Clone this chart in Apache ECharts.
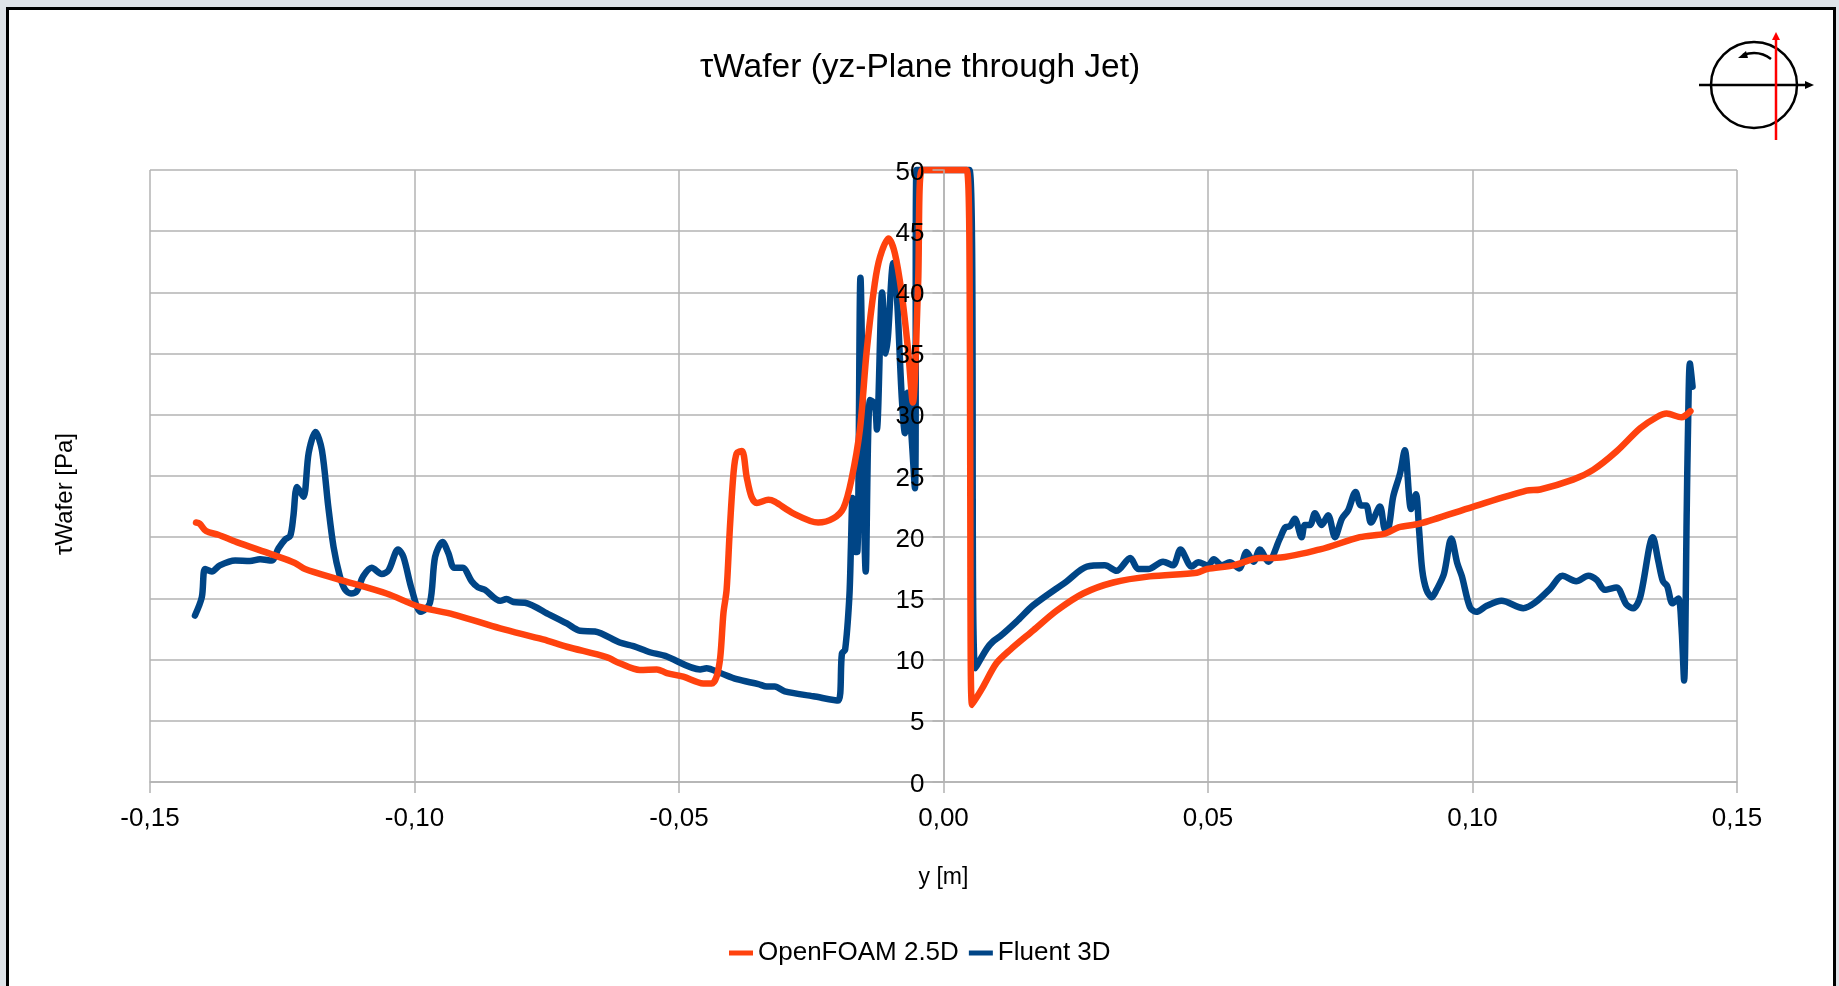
<!DOCTYPE html>
<html><head><meta charset="utf-8">
<style>
html,body{margin:0;padding:0;width:1839px;height:986px;overflow:hidden;background:#dfe3e8}
#frame{position:absolute;left:6px;top:7px;width:1824px;height:1100px;background:#fff;border:3px solid #000}
#c{position:absolute;left:0;top:0;width:1839px;height:986px}
</style>
<script src="https://cdn.jsdelivr.net/npm/echarts@6/dist/echarts.min.js"></script>
</head><body><div id="frame"></div><div id="c"></div>
<script>
const xTicks=[-0.15,-0.10,-0.05,0,0.05,0.10,0.15];
const openfoamX=[-.1413,-.1406,-.1394,-.1371,-.1336,-.127,-.1226,-.1207,-.1147,-.1053,-.099,-.0927,-.0838,-.0757,-.0712,-.0637,-.0612,-.0574,-.0542,-.0523,-.0492,-.0454,-.0438,-.0429,-.0422,-.0416,-.041,-.0404,-.0397,-.0391,-.0381,-.0372,-.0363,-.0353,-.0331,-.0319,-.0284,-.0237,-.0208,-.0189,-.0174,-.0158,-.0145,-.013,-.012,-.0104,-.0092,-.0079,-.0067,-.0058,-.0048,-.0041,.0044,.005,.0051,.0054,.0075,.01,.0126,.017,.0214,.0264,.0321,.039,.0479,.0498,.0548,.0598,.0624,.0712,.0787,.0835,.086,.09,.1002,.1102,.1128,.119,.1228,.1272,.1317,.1348,.1367,.1395,.1412];
const openfoamY=[21.2,21.1,20.5,20.2,19.6,18.6,17.9,17.4,16.6,15.4,14.3,13.7,12.55,11.65,11.05,10.2,9.7,9.15,9.2,8.9,8.6,8.05,8.05,8.6,10.2,13.8,15.7,20.6,25.2,26.85,27.05,24.9,23.3,22.8,23.05,22.9,21.95,21.2,21.55,22.4,24.7,28.8,35.3,40.7,42.9,44.4,43.2,39.9,35.3,31,40.7,50,50,35,14.9,6.3,7.8,9.7,10.8,12.4,14,15.4,16.3,16.8,17.1,17.4,17.7,18.3,18.3,19,20,20.3,20.8,21.1,22.5,23.8,23.9,24.7,25.5,27,28.9,29.8,30.1,29.8,30.3];
const fluentX=[-.1415,-.1402,-.1396,-.1383,-.1368,-.1339,-.1311,-.1292,-.127,-.1257,-.1245,-.1235,-.1229,-.1222,-.121,-.12,-.1187,-.1175,-.1163,-.1153,-.1141,-.1131,-.112,-.1109,-.1097,-.1081,-.1062,-.1049,-.1031,-.1021,-.1005,-.0988,-.0971,-.0961,-.0947,-.0936,-.0925,-.0909,-.0892,-.088,-.0867,-.0838,-.0826,-.0813,-.0791,-.0744,-.0712,-.0687,-.0659,-.0612,-.0586,-.0555,-.0526,-.046,-.0448,-.0422,-.0391,-.035,-.0334,-.0319,-.03,-.0246,-.0199,-.0192,-.0186,-.0178,-.0175,-.0172,-.0167,-.0163,-.0157,-.0147,-.0139,-.013,-.0126,-.0116,-.0109,-.0105,-.0095,-.0088,-.0079,-.0073,-.0068,-.0054,-.0051,.0049,.006,.0082,.0094,.0107,.0138,.017,.0233,.0271,.0305,.0327,.0353,.0368,.0387,.0415,.0434,.0448,.0469,.0482,.05,.0511,.0526,.0541,.0559,.0573,.0586,.0598,.0614,.0636,.0646,.0655,.0664,.0677,.0683,.0693,.0702,.0715,.0727,.074,.0753,.0765,.0779,.0789,.0799,.0808,.0825,.0835,.0842,.085,.0863,.0872,.0884,.0893,.0899,.0905,.0913,.0923,.0932,.0946,.096,.0971,.098,.0995,.1007,.1027,.1055,.1096,.1118,.1147,.117,.1196,.1219,.1235,.125,.1272,.1291,.1304,.1317,.1341,.1351,.136,.1368,.1378,.1389,.1395,.14,.1405,.1407,.1411,.1416];
const fluentY=[13.6,15.1,17.4,17.2,17.7,18.1,18.05,18.2,18.1,19.1,19.8,20.1,21.7,24.1,23.3,26.9,28.6,27.1,22.5,19.2,16.8,15.7,15.4,15.6,16.8,17.5,17,17.3,19,18.4,15.7,13.9,14.6,18.4,19.6,18.7,17.5,17.5,16.4,15.9,15.7,14.8,14.95,14.7,14.65,13.65,12.95,12.35,12.3,11.4,11.1,10.6,10.3,9.2,9.3,8.9,8.4,8,7.8,7.8,7.4,7,6.65,10.5,10.8,15.1,19.2,23.2,18.8,18.8,41.2,17.2,31.2,30.9,28.8,40,35,36.4,42.4,39.6,31.5,28.5,31.8,24,50,50,9.3,10.9,11.5,11.9,13.1,14.45,16.4,17.6,17.7,17.25,18.3,17.4,17.4,18,17.7,19,17.6,17.95,17.7,18.2,17.7,17.95,17.45,18.8,18,19,18,19.9,20.8,20.9,21.5,20,21,21,21.95,21,21.8,20,21.5,22.2,23.7,22.6,22.6,21.2,22.5,20.6,20.9,23.3,25.2,27.1,22.3,23.5,20.6,17.3,15.7,15.1,15.7,17,19.9,17.9,16.8,14.3,13.9,14.4,14.8,14.2,14.65,15.8,16.85,16.4,16.85,16.5,15.7,15.9,14.5,14.2,15.1,20,18.1,16.4,16,14.6,15,12.7,8.3,22.2,27.9,34.2,32.3];
const seriesNames=['OpenFOAM 2.5D','Fluent 3D'];
const seriesColors=['#ff420e','#004586'];
const zip=(a,b)=>a.map((v,i)=>[v,b[i]]);
const black='#000', red='#ff0000', gray='#b3b3b3';
const chart=echarts.init(document.getElementById('c'));
chart.setOption({
 animation:false,
 backgroundColor:'transparent',
 textStyle:{fontFamily:'Liberation Sans'},
 title:{text:'τWafer (yz-Plane through Jet)',left:695,top:46,textStyle:{fontFamily:'Liberation Sans',fontWeight:'normal',fontSize:33.5,color:'#000'}},
 legend:{left:724,top:935,itemWidth:24,itemHeight:5,itemGap:10,icon:'rect',
  textStyle:{fontFamily:'Liberation Sans',fontSize:26,color:'#000'},data:seriesNames},
 grid:{left:150,right:102,top:170,bottom:204,containLabel:false,outerBoundsMode:'none'},
 xAxis:{type:'value',min:-0.15,max:0.15,interval:0.05,name:'y [m]',nameLocation:'middle',nameGap:84,
  nameTextStyle:{fontFamily:'Liberation Sans',fontSize:23,color:'#000'},
  axisLine:{show:true,onZero:false,lineStyle:{color:gray,width:1.5}},
  axisTick:{show:true,length:11,lineStyle:{color:gray,width:1.5}},
  axisLabel:{fontSize:26,color:'#000',margin:24,showMinLabel:true,showMaxLabel:true,formatter:v=>v.toFixed(2).replace('.',',')},
  splitLine:{show:true,lineStyle:{color:gray,width:1.5}}},
 yAxis:[
  {type:'value',z:6,min:0,max:50,interval:5,position:'left',offset:-793.5,name:'τWafer [Pa]',nameLocation:'middle',nameGap:866,nameRotate:90,
   nameTextStyle:{fontFamily:'Liberation Sans',fontSize:24,color:'#000',padding:[0,36,0,0]},
   axisLine:{show:true,onZero:false,lineStyle:{color:gray,width:1.5}},
   axisTick:{show:true,length:11,lineStyle:{color:gray,width:1.5}},
   axisLabel:{fontSize:26,color:'#000',margin:19,formatter:v=>'{a|'+v+'}',rich:{a:{fontSize:26,color:'#000',fontFamily:'Liberation Sans',padding:[5,0,0,0]}}},
   splitLine:{show:false}},
  {type:'value',z:0,min:0,max:50,interval:5,position:'left',
   axisLine:{show:false,onZero:false},axisTick:{show:false},axisLabel:{show:false},
   splitLine:{show:true,lineStyle:{color:gray,width:1.5}}}
 ],
 series:[
  {name:seriesNames[0],type:'line',z:4,data:zip(openfoamX,openfoamY),showSymbol:false,symbol:'none',clip:false,smooth:0.3,
   itemStyle:{color:seriesColors[0]},lineStyle:{color:seriesColors[0],width:6.5,join:'round',cap:'round'}},
  {name:seriesNames[1],type:'line',z:3,data:zip(fluentX,fluentY),showSymbol:false,symbol:'none',clip:false,smooth:0.3,
   itemStyle:{color:seriesColors[1]},lineStyle:{color:seriesColors[1],width:6.5,join:'round',cap:'round'}}
 ],
 graphic:[
  {type:'circle',shape:{cx:1754,cy:85,r:43},style:{fill:null,stroke:black,lineWidth:2.5}},
  {type:'line',shape:{x1:1699,y1:85,x2:1808,y2:85},style:{stroke:black,lineWidth:2.5}},
  {type:'polygon',shape:{points:[[1814,85],[1805,81],[1805,89]]},style:{fill:black}},
  {type:'bezierCurve',shape:{x1:1771,y1:59,cpx1:1762,cpy1:52,cpx2:1752,cpy2:52,x2:1743,y2:55},style:{fill:null,stroke:black,lineWidth:2.5}},
  {type:'polygon',shape:{points:[[1738,58],[1746,51],[1748,58]]},style:{fill:black}},
  {type:'line',shape:{x1:1776,y1:140,x2:1776,y2:38},style:{stroke:red,lineWidth:2.5}},
  {type:'polygon',shape:{points:[[1776,32],[1772,40],[1780,40]]},style:{fill:red}}
 ]
});
</script></body></html>
